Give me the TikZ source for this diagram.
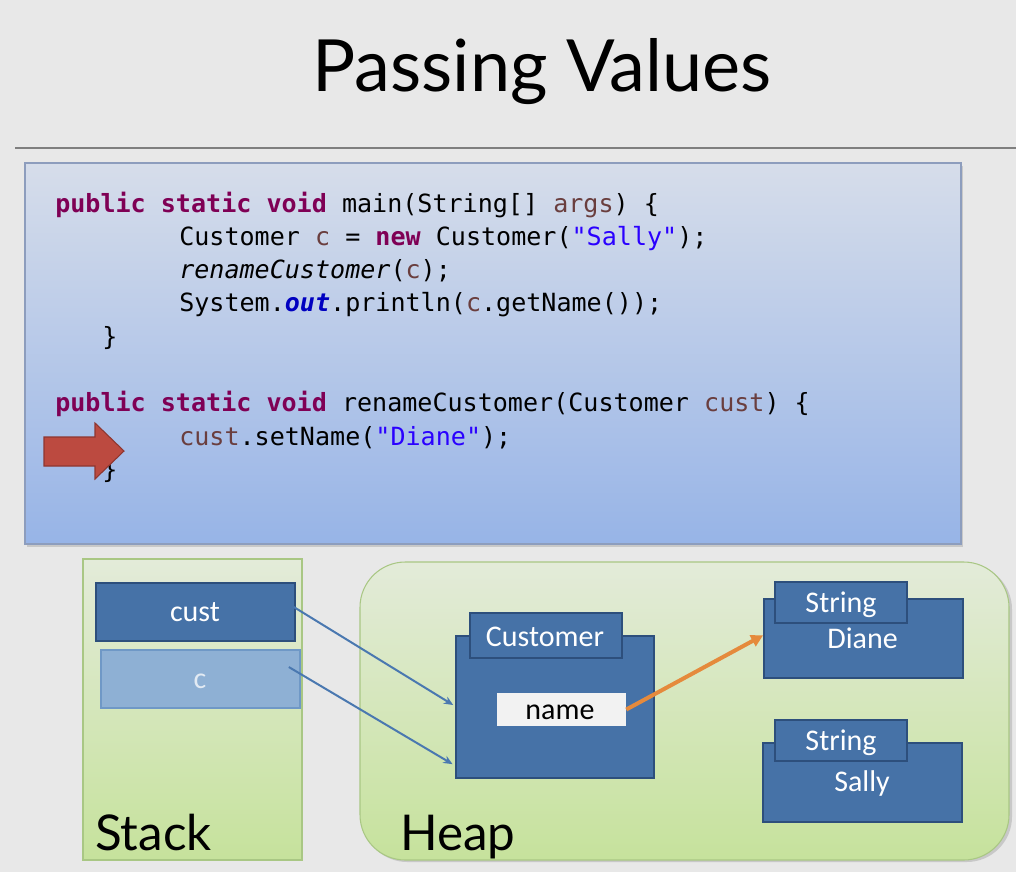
\documentclass[tikz,border=0pt]{standalone}
\usepackage{fontspec}
\setmainfont{Carlito}
\newfontfamily\codefont{DejaVu Sans Mono}
\newfontfamily\headfont{Lato}
\usetikzlibrary{fit,arrows.meta}

\definecolor{bgcol}{HTML}{E8E8E8}
\definecolor{rulecol}{HTML}{7F7F7F}
\definecolor{codetop}{HTML}{D6DDEA}
\definecolor{codebot}{HTML}{97B4E7}
\definecolor{codeedge}{HTML}{8D9DBD}
\definecolor{kwcol}{HTML}{7F0055}
\definecolor{varcol}{HTML}{6A3E3E}
\definecolor{strcol}{HTML}{2A00FF}
\definecolor{fldcol}{HTML}{0000C0}
\definecolor{arrowred}{HTML}{BC4A40}
\definecolor{arrowrededge}{HTML}{8E3630}
\definecolor{greentop}{HTML}{E3EBD9}
\definecolor{greenbot}{HTML}{C6E29C}
\definecolor{greenedge}{HTML}{A9C784}
\definecolor{objfill}{HTML}{4672A7}
\definecolor{objedge}{HTML}{2D4F7C}
\definecolor{palefill}{HTML}{8EB0D4}
\definecolor{paleedge}{HTML}{6F98C6}
\definecolor{paletext}{HTML}{E2EAF3}
\definecolor{refline}{HTML}{4A78B0}
\definecolor{orangeline}{HTML}{E58A3C}
\definecolor{shadowcol}{HTML}{C8C8C8}

\newcommand\kwd[1]{\textcolor{kwcol}{\bfseries #1}}
\newcommand\varc[1]{\textcolor{varcol}{#1}}
\newcommand\strc[1]{\textcolor{strcol}{#1}}
\newcommand\fldc[1]{\textcolor{fldcol}{\bfseries\itshape #1}}

\begin{document}
\begin{tikzpicture}[x=0.75pt,y=-0.75pt,
  codeline/.style={anchor=base west, inner sep=0pt,
    font=\codefont\fontsize{18.8}{22}\selectfont},
  codebox/.style={draw=codeedge, line width=0.8pt, inner sep=0pt,
    top color=codetop, bottom color=codebot},
  panel/.style={draw=greenedge, line width=0.8pt, inner sep=0pt,
    top color=greentop, bottom color=greenbot},
  objbox/.style={draw=objedge, line width=1.2pt, fill=objfill, inner sep=0pt},
  palebox/.style={draw=paleedge, line width=1.2pt, fill=palefill, inner sep=0pt},
  namebox/.style={fill=white!95!black, inner sep=0pt},
  lbl/.style={anchor=base, inner sep=0pt, text=white,
    font=\fontsize{22.5}{26}\selectfont},
  biglabel/.style={anchor=base west, inner sep=0pt,
    font=\headfont\fontsize{37}{40}\selectfont},
  ref/.style={draw=refline, line width=1.5pt,
    -{Stealth[length=7pt,width=6pt]}},
  namelink/.style={draw=orangeline, line width=3pt,
    -{Triangle[length=9pt,width=9pt]}},
  pointer/.style={fill=arrowred, draw=arrowrededge, line width=0.8pt},
]
\useasboundingbox (0,0) rectangle (1016,872);
\fill[bgcol] (0,0) rectangle (1016,872);

% heading and rule
\node[anchor=base, inner sep=0pt, font=\headfont\fontsize{54}{60}\selectfont]
  (title) at (542,91) {Passing Values};
\draw[rulecol, line width=1.2pt] (15,148) -- (1016,148);

% source code panel
\fill[shadowcol] (27,166) rectangle (963,547);
\node[codebox, fit={(25,163) (961,544)}] (code) {};
\node[codeline] (l1) at (55,212)
  {\kwd{public} \kwd{static} \kwd{void} main(String[] \varc{args}) \{};
\node[codeline] (l2) at (179,245.3)
  {Customer \varc{c} = \kwd{new} Customer(\strc{"Sally"});};
\node[codeline] (l3) at (179,278.6)
  {\itshape renameCustomer\upshape(\varc{c});};
\node[codeline] (l4) at (179,311.9)
  {System.\fldc{out}.println(\varc{c}.getName());};
\node[codeline] (l5) at (102,345.2) {\}};
\node[codeline] (l6) at (55,411.8)
  {\kwd{public} \kwd{static} \kwd{void} renameCustomer(Customer \varc{cust}) \{};
\node[codeline] (l7) at (179,445.1)
  {\varc{cust}.setName(\strc{"Diane"});};
\node[codeline] (l8) at (102,478.4) {\}};

% current-line marker
\draw[pointer] (44,437) -- (95,437) -- (95,423) -- (124,451) -- (95,479)
  -- (95,466) -- (44,466) -- cycle;

% stack
\node[panel, fit={(83,559) (302,860)}] (stack) {};
\node[biglabel] (stacklbl) at (95,850) {Stack};
\node[objbox, fit={(96,583) (295,641)}] (cust) {};
\node[lbl] (custlbl) at (195,621) {cust};
\node[palebox, fit={(101,650) (300,708)}] (c) {};
\node[lbl, text=paletext] (clbl) at (200,688) {c};

% heap
\fill[shadowcol, rounded corners=34pt] (362,564) rectangle (1012,862);
\node[panel, rounded corners=34pt, fit={(360,562) (1009,860)}] (heap) {};
\node[biglabel] (heaplbl) at (400,850) {Heap};

\node[objbox, fit={(456,636) (654,778)}] (custobj) {};
\node[objbox, fit={(470,613) (622,658)}] (custtab) {};
\node[lbl] (custtablbl) at (545,646) {Customer};
\node[namebox, fit={(497,693) (626,726)}] (name) {};
\node[lbl, text=black] (namelbl) at (560,719) {name};

\node[objbox, fit={(764,599) (963,678)}] (diane) {};
\node[objbox, fit={(775,582) (907,623)}] (dianetab) {};
\node[lbl] (dianetablbl) at (841,612.5) {String};
\node[lbl] (dianelbl) at (862.5,648) {Diane};

\node[objbox, fit={(763,743) (962,822)}] (sally) {};
\node[objbox, fit={(775,720) (907,761)}] (sallytab) {};
\node[lbl] (sallytablbl) at (841,750) {String};
\node[lbl] (sallylbl) at (862,791.5) {Sally};

% references
\draw[ref] ([xshift=-1.5pt,yshift=3.75pt]cust.east) -- ([xshift=-1.5pt,yshift=1.5pt]custobj.west);
\draw[ref] ([xshift=-9pt,yshift=9pt]c.east) -- ([xshift=-2pt,yshift=11pt]custobj.south west);
\draw[namelink] (name.east) -- ([yshift=2.5pt]diane.west);
\end{tikzpicture}
\end{document}
